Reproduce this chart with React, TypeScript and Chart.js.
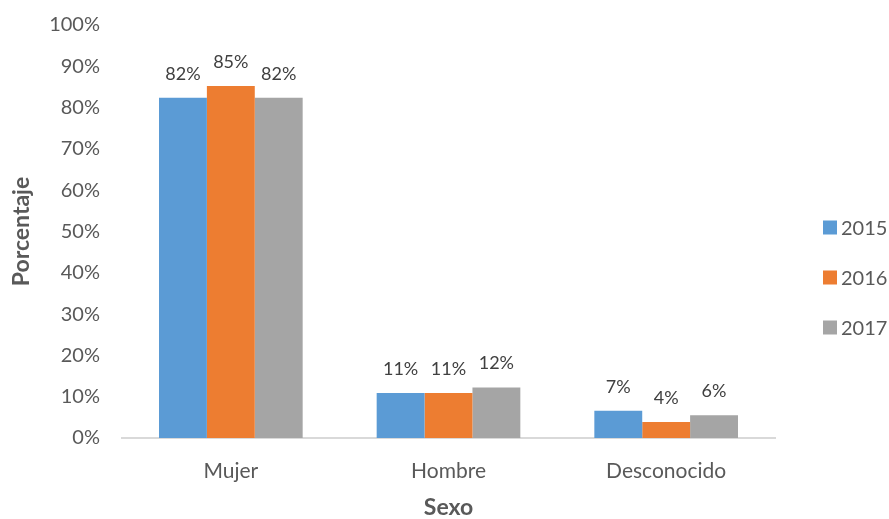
import React, { useEffect, useRef } from "react";
import { Chart, registerables } from "chart.js";

Chart.register(...registerables);

const categories = ["Mujer", "Hombre", "Desconocido"];
const seriesLabels = ["2015", "2016", "2017"];
const values2015 = [82.4, 10.9, 6.6];
const values2016 = [85.2, 10.9, 3.9];
const values2017 = [82.4, 12.2, 5.5];
const yTicks = [0, 10, 20, 30, 40, 50, 60, 70, 80, 90, 100];

const colors = ["#5B9BD5", "#ED7D31", "#A5A5A5"];
const FONT = "Lato, 'Open Sans', sans-serif";
const TEXT = "#595959";

const dataLabelPlugin = {
  id: "dataLabels",
  afterDatasetsDraw(chart: any) {
    const ctx = chart.ctx;
    ctx.save();
    ctx.font = `18px ${FONT}`;
    ctx.fillStyle = "#404040";
    ctx.textAlign = "center";
    ctx.textBaseline = "middle";
    chart.data.datasets.forEach((ds: any, i: number) => {
      const meta = chart.getDatasetMeta(i);
      meta.data.forEach((bar: any, j: number) => {
        ctx.fillText(`${Math.round(ds.data[j])}%`, bar.x, bar.y - 24);
      });
    });
    ctx.restore();
  },
};

const sideLegendPlugin = {
  id: "sideLegend",
  afterDraw(chart: any) {
    const ctx = chart.ctx;
    const area = chart.chartArea;
    const x = area.right + 48;
    const startY = (area.top + area.bottom) / 2 - 4;
    ctx.save();
    ctx.font = `20px ${FONT}`;
    ctx.textBaseline = "middle";
    ctx.textAlign = "left";
    chart.data.datasets.forEach((ds: any, i: number) => {
      const cy = startY + i * 50;
      ctx.fillStyle = ds.backgroundColor;
      ctx.fillRect(x, cy - 7, 14, 14);
      ctx.fillStyle = TEXT;
      ctx.fillText(ds.label, x + 18, cy + 1);
    });
    ctx.restore();
  },
};

export default function App() {
  const ref = useRef<HTMLCanvasElement>(null);
  useEffect(() => {
    if (!ref.current) return;
    const chart = new Chart(ref.current, {
      type: "bar",
      data: {
        labels: categories,
        datasets: [values2015, values2016, values2017].map((d, i) => ({
          label: seriesLabels[i],
          data: d,
          backgroundColor: colors[i],
          borderWidth: 0,
          categoryPercentage: 0.66,
          barPercentage: 1,
        })),
      },
      options: {
        responsive: false,
        animation: false,
        layout: { padding: { top: 25, right: 114, bottom: 0, left: 0 } },
        plugins: {
          legend: { display: false },
          tooltip: { enabled: false },
        },
        scales: {
          x: {
            grid: { display: false, drawTicks: false },
            border: { display: true, color: "#D9D9D9", width: 2 },
            ticks: { color: TEXT, font: { family: FONT, size: 21 }, padding: 21 },
            title: {
              display: true,
              text: "Sexo",
              color: TEXT,
              font: { family: FONT, size: 23, weight: "bold", lineHeight: 1 },
              padding: { top: 0, bottom: 0 },
            },
            afterFit: (s: any) => {
              s.height = 81;
              s.paddingLeft = 0;
              s.paddingRight = 0;
            },
          },
          y: {
            min: 0,
            max: 100,
            afterBuildTicks: (s: any) => {
              s.ticks = yTicks.map((v) => ({ value: v }));
            },
            grid: { display: false, drawTicks: false },
            border: { display: false },
            ticks: {
              color: TEXT,
              font: { family: FONT, size: 20 },
              padding: 22,
              callback: (v: any) => `${v}%`,
            },
            title: {
              display: true,
              text: "Porcentaje",
              color: TEXT,
              font: { family: FONT, size: 23, weight: "bold" },
              padding: { top: 8, bottom: 0 },
            },
            afterFit: (s: any) => {
              s.width = 122;
              s.paddingTop = 0;
              s.paddingBottom = 0;
            },
          },
        },
      },
      plugins: [dataLabelPlugin, sideLegendPlugin],
    });
    return () => chart.destroy();
  }, []);
  return (
    <div style={{ position: "absolute", left: 0, top: 0, width: 889, height: 519, background: "#fff" }}>
      <canvas ref={ref} width={889} height={519} style={{ display: "block" }} />
    </div>
  );
}
